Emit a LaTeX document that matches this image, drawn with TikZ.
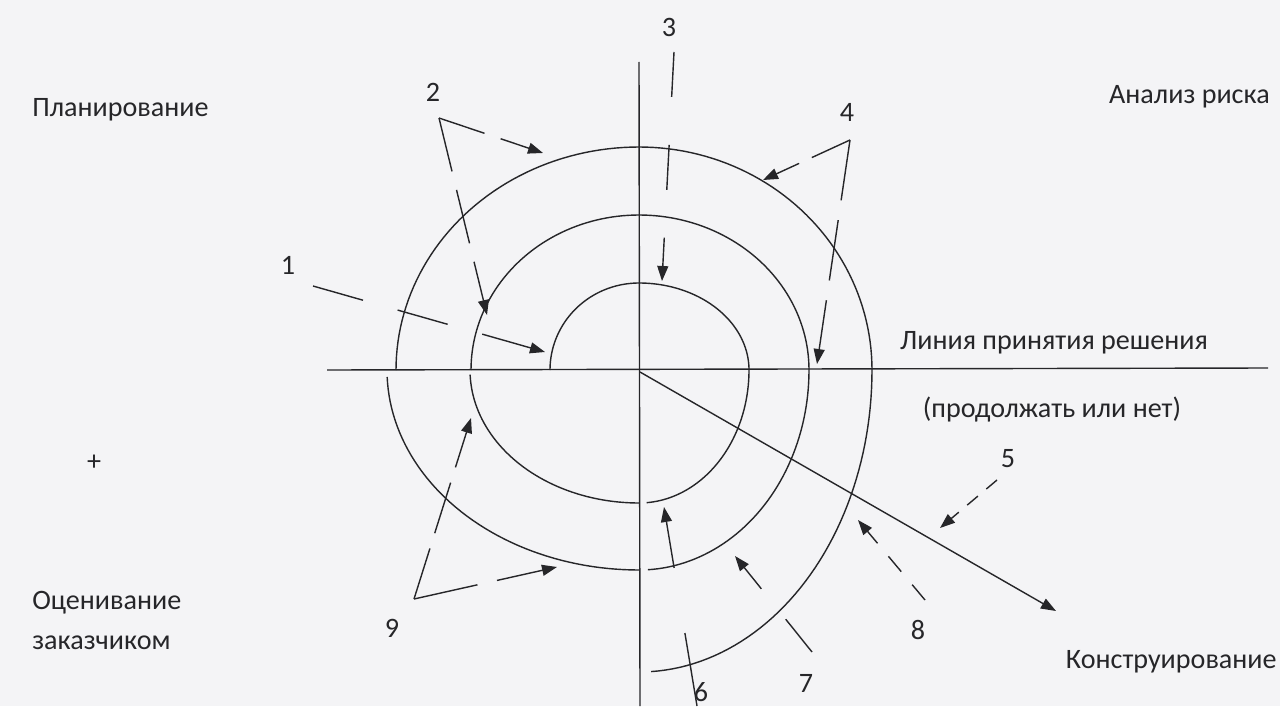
\documentclass[tikz,border=0pt]{standalone}
\usepackage{fontspec}
\setmainfont{Carlito}
\usetikzlibrary{arrows.meta}
\definecolor{Ink}{rgb}{0.15,0.15,0.16}
\definecolor{Paper}{rgb}{0.955,0.958,0.965}

\begin{document}
\begin{tikzpicture}[x=0.02cm, y=-0.02cm,
    font=\fontsize{16}{18}\selectfont,
    every node/.style={text=Ink},
    axis/.style={draw=Ink, line width=0.8pt},
    turn/.style={draw=Ink, line width=0.8pt, samples=50},
    pointer/.style 2 args={draw=Ink, line width=0.8pt, dash pattern=on #1 off #2,
        -{Triangle[length=3mm, width=2.2mm]}},
    phase/.style={anchor=west, inner sep=0pt}
]
\fill[Paper] (0,0) rectangle (1280,706);
\useasboundingbox (0,0) rectangle (1280,706);

% axes
\coordinate (top) at (639,62);
\coordinate (bot) at (640,706);
\coordinate (lft) at (327,370);
\coordinate (rgt) at (1268,368);
\coordinate (c) at (640,372);
\coordinate (dgt) at (1056,611);
\draw[axis] (top) -- (bot);
\draw[axis] (lft) -- (rgt);
\draw[axis, -{Triangle[length=3mm, width=2.2mm]}] (c) -- (dgt);

% spiral, turn by turn
\draw[turn] plot[domain=180:90] ({639+89*cos(\x)},{370-87*sin(\x)})
    -- plot[domain=90:0] ({639+110*cos(\x)},{370-87*sin(\x)})
    -- plot[domain=0:-86] ({639+110*cos(\x)},{370-133*sin(\x)});
\draw[turn] plot[domain=-90:-178] ({639+169*cos(\x)},{370-133*sin(\x)});
\draw[turn] plot[domain=180:90] ({639+168*cos(\x)},{370-155*sin(\x)})
    -- plot[domain=90:0] ({639+170*cos(\x)},{370-155*sin(\x)})
    -- plot[domain=0:-87] ({639+170*cos(\x)},{370-200*sin(\x)});
\draw[turn] plot[domain=-90:-178] ({639+252*cos(\x)},{370-200*sin(\x)});
\draw[turn] plot[domain=180:90] ({639+243*cos(\x)},{370-223*sin(\x)})
    -- plot[domain=90:0] ({639+233*cos(\x)},{370-223*sin(\x)})
    -- plot[domain=0:-87] ({639+233*cos(\x)},{370-302*sin(\x)});

% phase names
\node[phase] (plan) at (32,110) {Планирование};
\node[anchor=east, inner sep=0pt] (risk) at (1270,97) {Анализ риска};
\node[anchor=east, inner sep=0pt] (build) at (1277,662) {Конструирование};
\node[phase] (eval) at (32,603) {Оценивание};
\node[phase] (evalb) at (32,643) {заказчиком};
\node (decide) at (1054,343) {Линия принятия решения};
\node (goon) at (1052,410) {(продолжать или нет)};
\node (plus) at (94,463) {+};

% numbers
\node (n1) at (288,265) {1};
\node (n2) at (433,92) {2};
\node (n3) at (669,27) {3};
\node (n4) at (847,112) {4};
\node (n5) at (1008,459) {5};
\node (n6) at (701,692) {6};
\node (n7) at (806,683) {7};
\node (n8) at (918,630) {8};
\node (n9) at (392,628) {9};

% pointers
\coordinate (v1) at (313,286);  \coordinate (t1) at (545,352);
\coordinate (v2) at (439,118);  \coordinate (t2a) at (543,153);
\coordinate (t2b) at (487,315);
\coordinate (v3) at (674,52);   \coordinate (t3) at (662,281);
\coordinate (v4) at (850,140);  \coordinate (t4a) at (763,180);
\coordinate (t4b) at (817,364);
\coordinate (v5) at (997,480);  \coordinate (t5) at (940,528);
\coordinate (v6) at (697,706);  \coordinate (t6) at (664,507);
\coordinate (v7) at (812,652);  \coordinate (t7) at (735,556);
\coordinate (v8) at (925,600);  \coordinate (t8) at (858,520);
\coordinate (v9) at (414,599);  \coordinate (t9a) at (471,418);
\coordinate (t9b) at (557,567);

\draw[pointer={1.04cm}{0.72cm}] (v1) -- (t1);
\draw[pointer={0.96cm}{0.34cm}] (v2) -- (t2a);
\draw[pointer={1.1cm}{0.38cm}] (v2) -- (t2b);
\draw[pointer={0.9cm}{0.96cm}] (v3) -- (t3);
\draw[pointer={0.84cm}{0.28cm}] (v4) -- (t4a);
\draw[pointer={1.22cm}{0.4cm}] (v4) -- (t4b);
\draw[pointer={0.28cm}{0.22cm}] (v5) -- (t5);
\draw[pointer={1.48cm}{1.32cm}] (v6) -- (t6);
\draw[pointer={0.84cm}{0.78cm}] (v7) -- (t7);
\draw[pointer={0.4cm}{0.34cm}] (v8) -- (t8);
\draw[pointer={1.06cm}{0.32cm}] (v9) -- (t9a);
\draw[pointer={1.3cm}{0.4cm}] (v9) -- (t9b);
\end{tikzpicture}
\end{document}
